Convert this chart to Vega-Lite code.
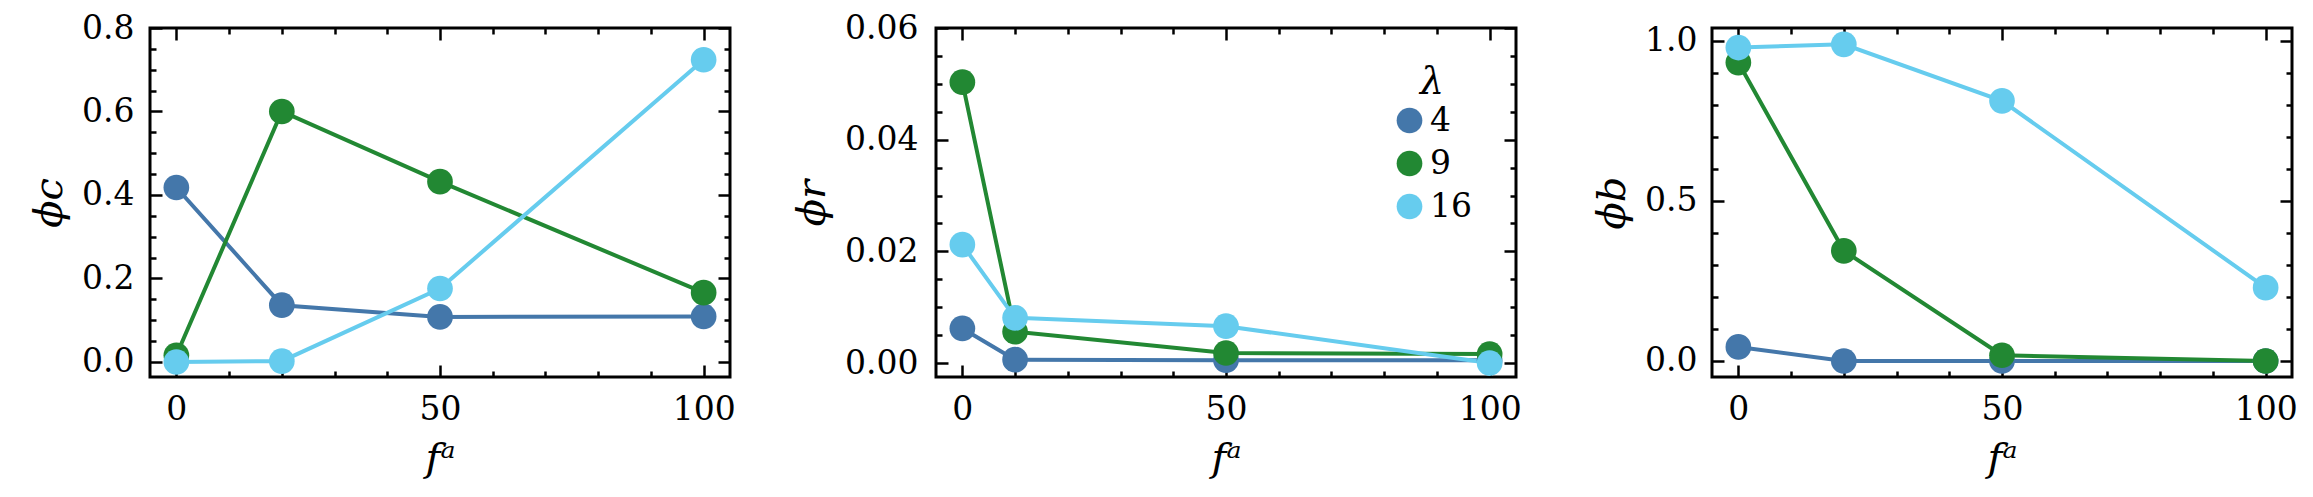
{
  "$schema": "https://vega.github.io/schema/vega-lite/v6.json",
  "padding": {"left": 28, "top": 10, "right": 5, "bottom": 5},
  "background": "white",
  "datasets": {
    "c": [
      {"f": 0, "lam": 4, "v": 0.418}, {"f": 20, "lam": 4, "v": 0.136}, {"f": 50, "lam": 4, "v": 0.108}, {"f": 100, "lam": 4, "v": 0.109},
      {"f": 0, "lam": 9, "v": 0.016}, {"f": 20, "lam": 9, "v": 0.6}, {"f": 50, "lam": 9, "v": 0.432}, {"f": 100, "lam": 9, "v": 0.166},
      {"f": 0, "lam": 16, "v": 0.0}, {"f": 20, "lam": 16, "v": 0.002}, {"f": 50, "lam": 16, "v": 0.176}, {"f": 100, "lam": 16, "v": 0.724}
    ],
    "r": [
      {"f": 0, "lam": 4, "v": 0.0062}, {"f": 10, "lam": 4, "v": 0.0006}, {"f": 50, "lam": 4, "v": 0.0005}, {"f": 100, "lam": 4, "v": 0.0005},
      {"f": 0, "lam": 9, "v": 0.0503}, {"f": 10, "lam": 9, "v": 0.0056}, {"f": 50, "lam": 9, "v": 0.0018}, {"f": 100, "lam": 9, "v": 0.0016},
      {"f": 0, "lam": 16, "v": 0.0212}, {"f": 10, "lam": 16, "v": 0.0081}, {"f": 50, "lam": 16, "v": 0.0066}, {"f": 100, "lam": 16, "v": 0.0}
    ],
    "b": [
      {"f": 0, "lam": 4, "v": 0.044}, {"f": 20, "lam": 4, "v": 0.0}, {"f": 50, "lam": 4, "v": 0.0}, {"f": 100, "lam": 4, "v": 0.0},
      {"f": 0, "lam": 9, "v": 0.932}, {"f": 20, "lam": 9, "v": 0.344}, {"f": 50, "lam": 9, "v": 0.018}, {"f": 100, "lam": 9, "v": 0.0},
      {"f": 0, "lam": 16, "v": 0.979}, {"f": 20, "lam": 16, "v": 0.989}, {"f": 50, "lam": 16, "v": 0.8125}, {"f": 100, "lam": 16, "v": 0.229}
    ]
  },
  "hconcat": [
    {
      "width": 580, "height": 349,
      "data": {"name": "c"},
      "layer": [
        {
          "mark": {"type": "line", "strokeWidth": 4},
          "encoding": {
            "x": {"field": "f", "type": "quantitative", "scale": {"domain": [-5, 105], "nice": false, "zero": false},
                  "axis": {"orient": "bottom", "values": [0, 50, 100], "format": "d", "tickSize": -12, "labelPadding": 28, "title": "fᵃ"}},
            "y": {"field": "v", "type": "quantitative", "scale": {"domain": [-0.036, 0.8], "nice": false, "zero": false},
                  "axis": {"orient": "left", "values": [0, 0.2, 0.4, 0.6, 0.8], "format": ".1f", "tickSize": -12, "labelPadding": 28, "title": "ϕc"}},
            "color": {"field": "lam", "type": "ordinal", "scale": {"domain": [4, 9, 16], "range": ["#4477AA", "#228833", "#66CCEE"]}, "legend": null}
          }
        },
        {
          "mark": {"type": "point", "filled": true, "size": 660, "opacity": 1},
          "encoding": {
            "x": {"field": "f", "type": "quantitative", "axis": {"orient": "top", "values": [0, 50, 100], "tickSize": -12, "labels": false, "title": null}},
            "y": {"field": "v", "type": "quantitative", "axis": {"orient": "right", "values": [0, 0.2, 0.4, 0.6, 0.8], "tickSize": -12, "labels": false, "title": null}},
            "color": {"field": "lam", "type": "ordinal", "legend": null}
          }
        },
        {
          "mark": {"type": "point", "opacity": 0},
          "encoding": {
            "x": {"field": "f", "type": "quantitative", "axis": {"orient": "bottom", "values": [10, 20, 30, 40, 60, 70, 80, 90], "tickSize": -6, "labels": false, "title": null}},
            "y": {"field": "v", "type": "quantitative", "axis": {"orient": "left", "values": [0.05, 0.1, 0.15, 0.25, 0.3, 0.35, 0.45, 0.5, 0.55, 0.65, 0.7, 0.75], "tickSize": -6, "labels": false, "title": null}}
          }
        },
        {
          "mark": {"type": "point", "opacity": 0},
          "encoding": {
            "x": {"field": "f", "type": "quantitative", "axis": {"orient": "top", "values": [10, 20, 30, 40, 60, 70, 80, 90], "tickSize": -6, "labels": false, "title": null}},
            "y": {"field": "v", "type": "quantitative", "axis": {"orient": "right", "values": [0.05, 0.1, 0.15, 0.25, 0.3, 0.35, 0.45, 0.5, 0.55, 0.65, 0.7, 0.75], "tickSize": -6, "labels": false, "title": null}}
          }
        }
      ],
      "resolve": {"axis": {"x": "independent", "y": "independent"}}
    },
    {
      "hconcat": [
        {
          "width": 580, "height": 349,
          "data": {"name": "r"},
          "layer": [
            {
              "mark": {"type": "line", "strokeWidth": 4},
              "encoding": {
                "x": {"field": "f", "type": "quantitative", "scale": {"domain": [-5, 105], "nice": false, "zero": false},
                      "axis": {"orient": "bottom", "values": [0, 50, 100], "format": "d", "tickSize": -12, "labelPadding": 28, "title": "fᵃ"}},
                "y": {"field": "v", "type": "quantitative", "scale": {"domain": [-0.0025, 0.06], "nice": false, "zero": false},
                      "axis": {"orient": "left", "values": [0, 0.02, 0.04, 0.06], "format": ".2f", "tickSize": -12, "labelPadding": 30, "title": "ϕr"}},
                "color": {"field": "lam", "type": "ordinal", "scale": {"domain": [4, 9, 16], "range": ["#4477AA", "#228833", "#66CCEE"]},
                          "legend": {"title": "λ", "orient": "none", "legendX": 457, "legendY": 36, "symbolType": "circle", "symbolSize": 660, "symbolStrokeWidth": 0, "symbolOpacity": 1, "titleAnchor": "middle", "titlePadding": 2, "labelOffset": 4, "rowPadding": 9}}
              }
            },
            {
              "mark": {"type": "point", "filled": true, "size": 660, "opacity": 1},
              "encoding": {
                "x": {"field": "f", "type": "quantitative", "axis": {"orient": "top", "values": [0, 50, 100], "tickSize": -12, "labels": false, "title": null}},
                "y": {"field": "v", "type": "quantitative", "axis": {"orient": "right", "values": [0, 0.02, 0.04, 0.06], "tickSize": -12, "labels": false, "title": null}},
                "color": {"field": "lam", "type": "ordinal",
                          "legend": {"title": "λ", "orient": "none", "legendX": 457, "legendY": 36, "symbolType": "circle", "symbolSize": 660, "symbolStrokeWidth": 0, "symbolOpacity": 1, "titleAnchor": "middle", "titlePadding": 2, "labelOffset": 4, "rowPadding": 9}}
              }
            },
            {
              "mark": {"type": "point", "opacity": 0},
              "encoding": {
                "x": {"field": "f", "type": "quantitative", "axis": {"orient": "bottom", "values": [10, 20, 30, 40, 60, 70, 80, 90], "tickSize": -6, "labels": false, "title": null}},
                "y": {"field": "v", "type": "quantitative", "axis": {"orient": "left", "values": [0.005, 0.01, 0.015, 0.025, 0.03, 0.035, 0.045, 0.05, 0.055], "tickSize": -6, "labels": false, "title": null}}
              }
            },
            {
              "mark": {"type": "point", "opacity": 0},
              "encoding": {
                "x": {"field": "f", "type": "quantitative", "axis": {"orient": "top", "values": [10, 20, 30, 40, 60, 70, 80, 90], "tickSize": -6, "labels": false, "title": null}},
                "y": {"field": "v", "type": "quantitative", "axis": {"orient": "right", "values": [0.005, 0.01, 0.015, 0.025, 0.03, 0.035, 0.045, 0.05, 0.055], "tickSize": -6, "labels": false, "title": null}}
              }
            }
          ],
          "resolve": {"axis": {"x": "independent", "y": "independent"}}
        },
        {
          "width": 580, "height": 349,
          "data": {"name": "b"},
          "layer": [
            {
              "mark": {"type": "line", "strokeWidth": 4},
              "encoding": {
                "x": {"field": "f", "type": "quantitative", "scale": {"domain": [-5, 105], "nice": false, "zero": false},
                      "axis": {"orient": "bottom", "values": [0, 50, 100], "format": "d", "tickSize": -12, "labelPadding": 28, "title": "fᵃ"}},
                "y": {"field": "v", "type": "quantitative", "scale": {"domain": [-0.05, 1.04], "nice": false, "zero": false},
                      "axis": {"orient": "left", "values": [0, 0.5, 1.0], "format": ".1f", "tickSize": -12, "labelPadding": 27, "title": "ϕb"}},
                "color": {"field": "lam", "type": "ordinal", "scale": {"domain": [4, 9, 16], "range": ["#4477AA", "#228833", "#66CCEE"]}, "legend": null}
              }
            },
            {
              "mark": {"type": "point", "filled": true, "size": 660, "opacity": 1},
              "encoding": {
                "x": {"field": "f", "type": "quantitative", "axis": {"orient": "top", "values": [0, 50, 100], "tickSize": -12, "labels": false, "title": null}},
                "y": {"field": "v", "type": "quantitative", "axis": {"orient": "right", "values": [0, 0.5, 1.0], "tickSize": -12, "labels": false, "title": null}},
                "color": {"field": "lam", "type": "ordinal", "legend": null}
              }
            },
            {
              "mark": {"type": "point", "opacity": 0},
              "encoding": {
                "x": {"field": "f", "type": "quantitative", "axis": {"orient": "bottom", "values": [10, 20, 30, 40, 60, 70, 80, 90], "tickSize": -6, "labels": false, "title": null}},
                "y": {"field": "v", "type": "quantitative", "axis": {"orient": "left", "values": [0.1, 0.2, 0.3, 0.4, 0.6, 0.7, 0.8, 0.9], "tickSize": -6, "labels": false, "title": null}}
              }
            },
            {
              "mark": {"type": "point", "opacity": 0},
              "encoding": {
                "x": {"field": "f", "type": "quantitative", "axis": {"orient": "top", "values": [10, 20, 30, 40, 60, 70, 80, 90], "tickSize": -6, "labels": false, "title": null}},
                "y": {"field": "v", "type": "quantitative", "axis": {"orient": "right", "values": [0.1, 0.2, 0.3, 0.4, 0.6, 0.7, 0.8, 0.9], "tickSize": -6, "labels": false, "title": null}}
              }
            }
          ],
          "resolve": {"axis": {"x": "independent", "y": "independent"}}
        }
      ],
      "spacing": 68,
      "resolve": {"legend": {"color": "independent"}}
    }
  ],
  "spacing": 54,
  "resolve": {"legend": {"color": "independent"}},
  "config": {
    "font": "DejaVu Serif",
    "view": {"stroke": "black", "strokeWidth": 3},
    "axis": {
      "grid": false, "domain": false,
      "tickColor": "black", "tickWidth": 2.5,
      "labelFont": "DejaVu Serif", "labelFontSize": 33, "labelColor": "black",
      "titleFont": "DejaVu Serif", "titleFontSize": 40, "titleFontStyle": "italic", "titleFontWeight": "normal", "titleColor": "black", "titlePadding": 12
    },
    "legend": {
      "labelFont": "DejaVu Serif", "labelFontSize": 33, "labelColor": "black",
      "titleFont": "DejaVu Serif", "titleFontSize": 38, "titleFontStyle": "italic", "titleFontWeight": "normal", "titleColor": "black"
    }
  }
}
